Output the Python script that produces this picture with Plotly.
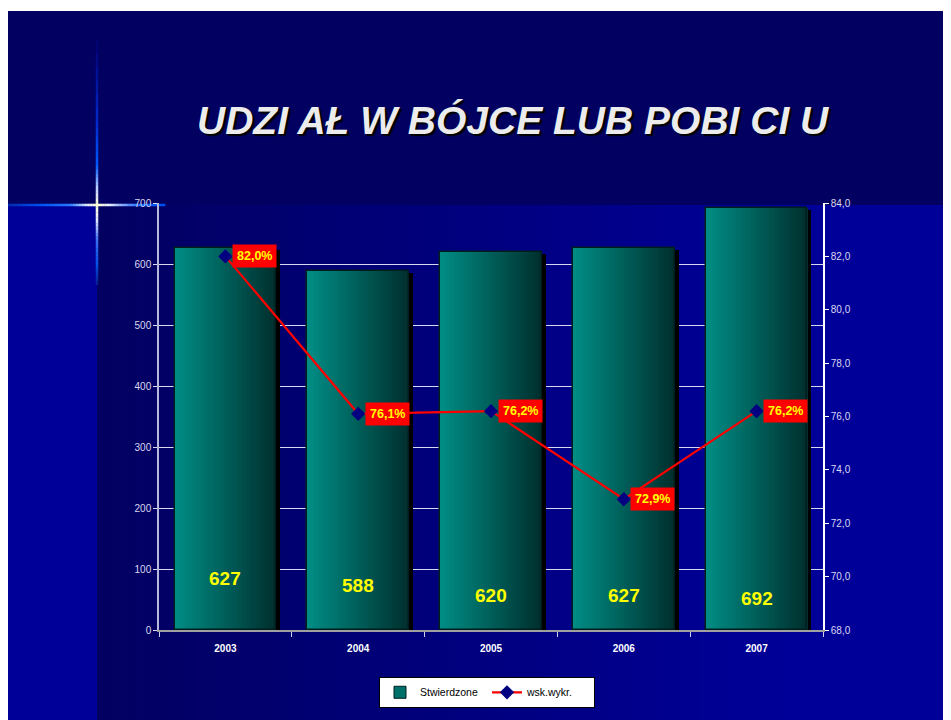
import plotly.graph_objects as go

# ---------------- data ----------------
years = ["2003", "2004", "2005", "2006", "2007"]
stwierdzone = [627, 588, 620, 627, 692]
wsk_wykr = [82.0, 76.1, 76.2, 72.9, 76.2]
bar_label_y = [85, 73, 57, 57, 52]          # label anchor heights (left axis units)
title_text = "UDZI AŁ W BÓJCE LUB POBI CI U"
left_ticks = [0, 100, 200, 300, 400, 500, 600, 700]
right_ticks = [68, 70, 72, 74, 76, 78, 80, 82, 84]

xi = list(range(len(years)))

# ---------------- layout geometry ----------------
OFF = 8                      # page body margin
FIG_W, FIG_H = 951 - OFF, 720 - OFF
L, R, T, B = 159 - OFF, 823 - OFF, 203 - OFF, 632 - OFF
PW, PH = R - L, B - T

def px(x):
    return (x - OFF - L) / PW

def py(y):
    return (B - (y - OFF)) / PH

ARIAL = "Liberation Sans, Arial, sans-serif"

def lerp(c1, c2, t):
    return "rgb(%d,%d,%d)" % tuple(round(a + (b - a) * t) for a, b in zip(c1, c2))

fig = go.Figure()

BAR_W = 0.765
# shadow
fig.add_trace(go.Bar(
    x=xi, y=[v - 3.5 for v in stwierdzone], width=BAR_W, offset=-BAR_W / 2 + 0.03,
    marker=dict(color="#000000", line=dict(width=0)), showlegend=False, hoverinfo="skip"))

# gradient strips
N = 30
c_left = (0, 140, 132)
c_right = (0, 48, 46)
sw = BAR_W / N
for i in range(N):
    fig.add_trace(go.Bar(
        x=xi, y=stwierdzone, width=sw * 1.08, offset=-BAR_W / 2 + i * sw,
        marker=dict(color=lerp(c_left, c_right, i / (N - 1)), line=dict(width=0)),
        showlegend=False, hoverinfo="skip"))

# outline + legend entry
fig.add_trace(go.Bar(
    x=xi, y=stwierdzone, width=BAR_W, offset=-BAR_W / 2, name="Stwierdzone",
    marker=dict(color="rgba(0,0,0,0)", line=dict(color="#001e1e", width=1.5)),
    showlegend=False))
fig.add_trace(go.Bar(
    x=[None], y=[None], name="Stwierdzone",
    marker=dict(color="#00706a", line=dict(color="#001e1e", width=1)), showlegend=True))

# line
fig.add_trace(go.Scatter(
    x=xi, y=wsk_wykr, name="wsk.wykr.", mode="lines+markers", yaxis="y2",
    line=dict(color="#ff0000", width=2.2),
    marker=dict(symbol="diamond", size=11, color="#000080", line=dict(width=0))))

# ---------------- background shapes ----------------
shapes = []
def rect(x0, y0, x1, y1, color):
    shapes.append(dict(type="rect", xref="paper", yref="paper", layer="below",
                       x0=px(x0), x1=px(x1), y0=py(y1), y1=py(y0),
                       fillcolor=color, line=dict(width=0)))

rect(6, 10, 960, 206, "#020060")
rect(6, 205, 97.5, 730, "#000099")
navy = (2, 0, 96)
blue = (0, 0, 153)
gx0, gx1 = 97, 800
NG = 70
step = (gx1 - gx0) / NG
for i in range(NG):
    rect(gx0 + i * step, 205, gx0 + (i + 1) * step + 0.8, 730, lerp(navy, blue, (i + 0.5) / NG))
rect(gx1, 205, 960, 730, "#000099")

# star flare
def seg(x0, y0, x1, y1, color, w):
    shapes.append(dict(type="line", xref="paper", yref="paper", layer="below",
                       x0=px(x0), x1=px(x1), y0=py(y0), y1=py(y1),
                       line=dict(color=color, width=w)))

hstops = [(6, (0, 40, 170)), (40, (0, 80, 240)), (70, (40, 120, 255)), (88, (230, 240, 255)),
          (97, (255, 255, 215)), (108, (240, 245, 255)), (125, (120, 160, 255)),
          (145, (0, 90, 255)), (165, (0, 80, 240))]
for (a, ca), (b, cb) in zip(hstops[:-1], hstops[1:]):
    n = 6
    for k in range(n):
        xa = a + (b - a) * k / n
        xb = a + (b - a) * (k + 1) / n
        seg(xa, 205, xb + 0.3, 205, lerp(ca, cb, (k + 0.5) / n), 2.5)

vstops = [(40, (4, 0, 110)), (120, (0, 40, 200)), (165, (0, 90, 255)), (190, (200, 215, 255)),
          (205, (255, 255, 215)), (220, (230, 235, 255)), (240, (60, 110, 240)),
          (265, (0, 80, 230)), (285, (10, 30, 140))]
for (a, ca), (b, cb) in zip(vstops[:-1], vstops[1:]):
    n = 6
    for k in range(n):
        ya = a + (b - a) * k / n
        yb = a + (b - a) * (k + 1) / n
        seg(97, ya, 97, yb + 0.3, lerp(ca, cb, (k + 0.5) / n), 2.5)

# ---------------- annotations ----------------
ann = []
ann.append(dict(text="<b><i>%s</i></b>" % title_text, xref="paper", yref="paper",
                x=px(513), y=py(120), xanchor="center", yanchor="middle", showarrow=False,
                font=dict(family=ARIAL, size=39, color="#ececec",
                          shadow="2px 2px 1px #000000")))
for i, v, ly in zip(xi, stwierdzone, bar_label_y):
    ann.append(dict(text="<b>%d</b>" % v, x=i, y=ly, xref="x", yref="y", showarrow=False,
                    xanchor="center", yanchor="middle",
                    font=dict(family=ARIAL, size=19, color="#ffff00")))
for i, v in zip(xi, wsk_wykr):
    ann.append(dict(text="<b>%s%%</b>" % ("%.1f" % v).replace(".", ","), x=i, y=v,
                    xref="x", yref="y2", showarrow=False, xanchor="left", yanchor="middle",
                    xshift=6.5, bgcolor="#ff0000", borderpad=4,
                    font=dict(family=ARIAL, size=12.5, color="#ffff00")))

fig.update_layout(
    width=FIG_W, height=FIG_H,
    margin=dict(l=L, r=FIG_W - R, t=T, b=FIG_H - B, pad=0),
    paper_bgcolor="#ffffff", plot_bgcolor="rgba(0,0,0,0)",
    barmode="overlay", bargap=0, separators=", ",
    shapes=shapes, annotations=ann,
    showlegend=True,
    legend=dict(orientation="h", x=px(487), y=py(679), xanchor="center", yanchor="top",
                bgcolor="#ffffff", bordercolor="#000000", borderwidth=1,
                font=dict(family=ARIAL, size=10.5, color="#000000"),
                entrywidth=62, itemwidth=30, traceorder="normal"),
    xaxis=dict(range=[-0.5, len(years) - 0.5], tickvals=xi, ticktext=years, tickangle=0,
               showgrid=False, zeroline=False, ticks="", ticklen=0, ticklabelstandoff=8,
               minor=dict(ticks="outside", tick0=-0.5, dtick=1, ticklen=5,
                          tickcolor="#d0d0e8", tickwidth=1, showgrid=False),
               showline=True, linecolor="#a0a0a0", linewidth=1.5,
               tickfont=dict(family=ARIAL, size=10, color="#ffffff", weight="bold"),
               fixedrange=True),
    yaxis=dict(range=[0, 700], tickvals=left_ticks, showgrid=True, gridcolor="#d8d8f0",
               gridwidth=1.2, zeroline=False, showline=True, linecolor="#b8b8dc", linewidth=1.5,
               ticks="outside", ticklen=4, tickcolor="#d8d8f0",
               tickfont=dict(family=ARIAL, size=10, color="#d8d8f0")),
    yaxis2=dict(range=[68, 84], tickvals=right_ticks, tickformat=".1f", overlaying="y",
                side="right", showgrid=False, zeroline=False, showline=True,
                linecolor="#ffffff", linewidth=1.5, ticks="outside", ticklen=4,
                tickcolor="#ffffff",
                tickfont=dict(family=ARIAL, size=10, color="#d8d8f0")),
)

fig.write_html("out.html")
